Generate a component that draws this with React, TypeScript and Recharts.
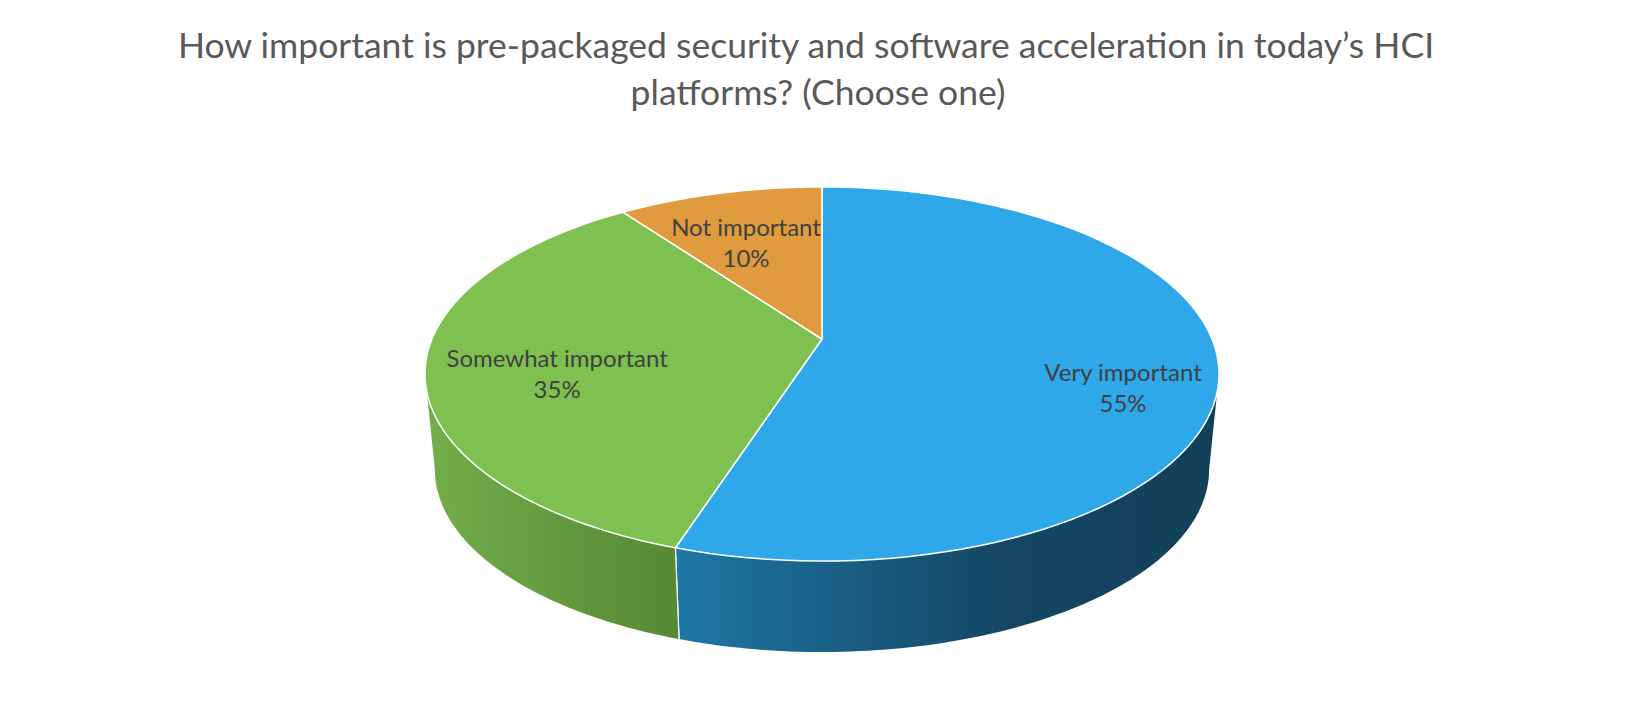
import React from 'react';
import { PieChart, Pie, Cell } from 'recharts';

const CATEGORIES = ['Very important', 'Somewhat important', 'Not important'];
const VALUES = [55, 35, 10];
const TITLE_LINES = [
  'How important is pre-packaged security and software acceleration in today\u2019s HCI',
  'platforms? (Choose one)',
];
const TITLE_LINE_SHIFT = [-16, -4];

const TOP_COLORS = ['#2EA8E8', '#7EC150', '#DF9B3E'];
const WALL_STOPS: [number, string][][] = [
  [[0, '#1F78A7'], [0.6, '#144764'], [1, '#12405A']],
  [[0, '#73AE4A'], [1, '#568934']],
  [[0, '#C9822E'], [1, '#A8691F']],
];

const K = 0.1872; // perspective factor
const TILT = 0.4628; // vertical squash
const DEPTH = 96.5; // pie thickness
const BOTTOM_SCALE = 0.975;
const LABEL_RADIUS = [0.764, 0.674, 0.71];
const LABEL_DY = [26, 15, 11];
const LABEL_GAP = 15.5;

const data = CATEGORIES.map((name, i) => ({ name, value: VALUES[i] }));

function project(cx: number, cy: number, R: number, deg: number, frac: number, bottom: boolean): [number, number] {
  const a = (deg * Math.PI) / 180;
  const u = frac * Math.cos(a);
  const v = -frac * Math.sin(a);
  const d = 1 - K * v;
  const s = bottom ? BOTTOM_SCALE : 1;
  return [cx + (R * s * u) / d, cy + (bottom ? DEPTH : 0) + (R * s * TILT * v) / d];
}

function arcPoints(cx: number, cy: number, R: number, a0: number, a1: number, bottom: boolean, n = 90) {
  const pts: [number, number][] = [];
  for (let i = 0; i <= n; i++) {
    const a = a0 + ((a1 - a0) * i) / n;
    pts.push(project(cx, cy, R, a, 1, bottom));
  }
  return pts;
}

const SILH = (Math.asin(K) * 180) / Math.PI;

const Slice3D = (props: any) => {
  const { cx, cy, outerRadius, startAngle, endAngle, index } = props;
  const R = outerRadius;
  const idx = index ?? 0;
  const lo = Math.min(startAngle, endAngle);
  const hi = Math.max(startAngle, endAngle);
  const walls: { a0: number; a1: number; edge0: boolean; edge1: boolean }[] = [];
  for (const shift of [-360, 0, 360]) {
    const fl = -180 + SILH + shift;
    const fh = -SILH + shift;
    const a0 = Math.max(lo, fl);
    const a1 = Math.min(hi, fh);
    if (a1 > a0) walls.push({ a0, a1, edge0: a0 === lo, edge1: a1 === hi });
  }
  const top = arcPoints(cx, cy, R, startAngle, endAngle, false);
  const topPath =
    `M${cx},${cy} ` + top.map((p) => `L${p[0].toFixed(2)},${p[1].toFixed(2)}`).join(' ') + ' Z';
  const gid = `wallgrad-${idx}`;
  return (
    <g>
      {walls.map((w, wi) => {
        const t = arcPoints(cx, cy, R, w.a0, w.a1, false);
        const b = arcPoints(cx, cy, R, w.a0, w.a1, true).reverse();
        const all = [...t, ...b];
        const xs = all.map((p) => p[0]);
        const x1 = Math.min(...xs);
        const x2 = Math.max(...xs);
        const d = 'M' + all.map((p) => `${p[0].toFixed(2)},${p[1].toFixed(2)}`).join(' L') + ' Z';
        const id = `${gid}-${wi}`;
        const e0t = t[0];
        const e0b = b[b.length - 1];
        const e1t = t[t.length - 1];
        const e1b = b[0];
        return (
          <g key={wi}>
            <defs>
              <linearGradient id={id} gradientUnits="userSpaceOnUse" x1={x1} y1={0} x2={x2} y2={0}>
                {WALL_STOPS[idx].map(([o, c], si) => (
                  <stop key={si} offset={o} stopColor={c} />
                ))}
              </linearGradient>
            </defs>
            <path d={d} fill={`url(#${id})`} stroke="none" />
            {w.edge0 && (
              <line x1={e0t[0]} y1={e0t[1]} x2={e0b[0]} y2={e0b[1]} stroke="#ffffff" strokeWidth={1.2} />
            )}
            {w.edge1 && (
              <line x1={e1t[0]} y1={e1t[1]} x2={e1b[0]} y2={e1b[1]} stroke="#ffffff" strokeWidth={1.2} />
            )}
          </g>
        );
      })}
      <path d={topPath} fill={TOP_COLORS[idx]} stroke="#ffffff" strokeWidth={1.5} strokeLinejoin="round" />
    </g>
  );
};

const renderLabel = (p: any) => {
  const { cx, cy, outerRadius, midAngle, index, percent } = p;
  const [x, y] = project(cx, cy, outerRadius, midAngle, LABEL_RADIUS[index], false);
  const yc = y + LABEL_DY[index];
  return (
    <g>
      <text x={x} y={yc - LABEL_GAP} textAnchor="middle" dominantBaseline="central" fill="#404040" fontSize={24} fontFamily="Lato">
        {CATEGORIES[index]}
      </text>
      <text x={x} y={yc + LABEL_GAP} textAnchor="middle" dominantBaseline="central" fill="#404040" fontSize={24} fontFamily="Lato">
        {`${Math.round(percent * 100)}%`}
      </text>
    </g>
  );
};

export default function App() {
  return (
    <div style={{ position: 'relative', width: 1628, height: 711, background: '#ffffff', fontFamily: 'Lato' }}>
      <div
        style={{
          position: 'absolute',
          top: 13,
          left: 0,
          width: 1628,
          textAlign: 'center',
          color: '#595959',
          fontSize: 35.5,
          lineHeight: '47px',
          fontFamily: 'Lato',
          zIndex: 2,
        }}
      >
        {TITLE_LINES.map((l, i) => (
          <div key={i} style={{ position: 'relative', left: TITLE_LINE_SHIFT[i] }}>
            {l}
          </div>
        ))}
      </div>
      <PieChart width={1628} height={711}>
        <Pie
          data={data}
          dataKey="value"
          nameKey="name"
          cx={809}
          cy={326}
          outerRadius={390}
          startAngle={90}
          endAngle={-270}
          stroke="#ffffff"
          shape={Slice3D}
          label={renderLabel}
          labelLine={false}
          isAnimationActive={false}
        >
          {data.map((d, i) => (
            <Cell key={d.name} fill={TOP_COLORS[i]} />
          ))}
        </Pie>
      </PieChart>
    </div>
  );
}
